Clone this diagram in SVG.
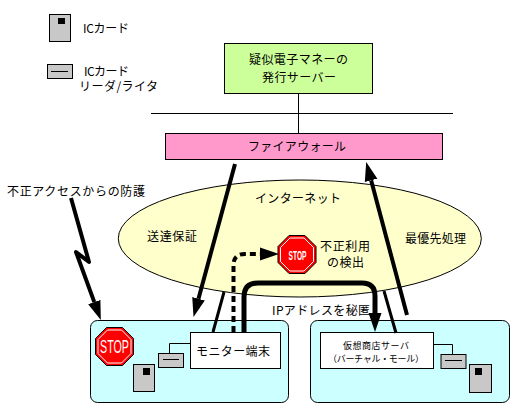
<svg xmlns="http://www.w3.org/2000/svg" width="523" height="416" viewBox="0 0 523 416">
<style>
text{font-family:"Noto Sans CJK JP","Liberation Sans",sans-serif;font-size:12px;fill:#000}
.s{font-size:9px}
.b{stroke:#000;stroke-width:1}
.card{fill:#c8c8c8}
.cyan{fill:#ccffff}
.w{fill:#fff}
.l{fill:none;stroke:#000;stroke-width:1}
.a{fill:none;stroke:#000;stroke-width:4;stroke-linejoin:round}
.stop{fill:#ff0000;stroke:#000;stroke-width:1}
.ring{fill:none;stroke:#fff;stroke-width:1}
.st{fill:#fff;font-family:"Liberation Sans",sans-serif}
</style>
<defs>
<marker id="h" markerUnits="userSpaceOnUse" markerWidth="20" markerHeight="14" refX="0" refY="7" orient="auto"><path d="M0 0.500L19 7L0 13.500Z" fill="#000"/></marker>
<g id="oct"><path class="stop" d="M-8 -19H8L19 -8V8L8 19H-8L-19 8V-8Z"/><path class="ring" d="M-7 -16.500H7L16.500 -7V7L7 16.500H-7L-16.500 7V-7Z"/></g>
</defs>
<g id="legend-card"><rect class="b card" x="49.500" y="14.500" width="21" height="27"/><rect x="58" y="18" width="7" height="6"/><text x="83" y="32.500" textLength="46">ICカード</text></g>
<g id="legend-reader"><rect class="b card" x="47.500" y="64.500" width="25" height="14"/><path class="l" d="M51 71.500H68"/><text x="84" y="75.500" textLength="45">ICカード</text><text x="79" y="91" textLength="79">リーダ/ライタ</text></g>
<g id="internet"><ellipse cx="299.800" cy="238.500" rx="181.500" ry="58.500" fill="#ffffcc" stroke="#000"/><text x="255" y="203" textLength="86">インターネット</text><text x="147" y="241" textLength="50">送達保証</text><text x="405" y="243" textLength="61">最優先処理</text></g>
<g id="server"><rect class="b" fill="#ccff99" x="224.500" y="43.500" width="148" height="50"/><text x="249" y="64" textLength="99">疑似電子マネーの</text><text x="262" y="81.500" textLength="74">発行サーバー</text></g>
<g id="firewall"><rect class="b" fill="#ff99cc" x="165.500" y="133.500" width="277" height="26"/><text x="248" y="151" textLength="98">ファイアウォール</text></g>
<g id="left-site"><rect class="b cyan" x="90.500" y="320.500" width="198" height="82" rx="7"/><rect class="b card" x="158.500" y="353.500" width="25" height="14"/><path class="l" d="M163 359.500H179M169.500 353V343.500H190"/><rect class="b card" x="133.500" y="364.500" width="21" height="27"/><rect x="143" y="368" width="7" height="7"/><rect class="b w" x="190.500" y="332.500" width="90" height="36"/><text x="196" y="356" textLength="74">モニター端末</text></g>
<g id="right-site"><rect class="b cyan" x="310.500" y="320.500" width="199" height="82" rx="7"/><rect class="b card" x="441" y="354.500" width="25" height="14"/><path class="l" d="M445 360.500H462M452.500 354V344.500H434"/><rect class="b card" x="469.500" y="364.500" width="22" height="28"/><rect x="475" y="368" width="7" height="7"/><rect class="b w" x="320.500" y="332.500" width="113" height="36"/><text class="s" x="343" y="348.500" textLength="66">仮想商店サーバ</text><text class="s" x="328" y="362" textLength="96">（バーチャル・モール）</text></g>
<g id="connectors">
<path class="l" d="M151 113.500H453M298.500 93V133"/>
<path class="a" d="M235 164L198.500 298.700" marker-end="url(#h)"/>
<path class="a" d="M407 315L371.100 180.300" marker-end="url(#h)"/>
<path class="a" style="stroke-width:3" d="M224 292L213 332M384 291L396 333"/>
<path class="a" d="M71 198L89 262L76 252L94.300 302.100" marker-end="url(#h)"/>
<path class="a" stroke-dasharray="6 4" d="M233.500 332V265Q233.500 254 245 254H260" marker-end="url(#h)"/>
<path class="a" style="stroke-width:5" d="M244 332V297Q244 283 258 283H362Q375 283 375 296V313" marker-end="url(#h)"/>
</g>
<g id="stop-left"><use href="#oct" transform="translate(114.500 346.500)"/><text class="st" x="100" y="353" textLength="29" lengthAdjust="spacingAndGlyphs" style="font-size:19px">STOP</text></g>
<g id="stop-center"><use href="#oct" transform="translate(297 254.500)"/><text class="st" x="288.500" y="260" textLength="18" lengthAdjust="spacingAndGlyphs" style="font-size:13px;font-weight:bold">STOP</text><text x="320" y="251" textLength="50">不正利用</text><text x="327" y="267" textLength="37">の検出</text></g>
<g id="labels"><text x="7" y="196" textLength="138">不正アクセスからの防護</text><text x="272" y="315" textLength="98">IPアドレスを秘匿</text></g>
</svg>
